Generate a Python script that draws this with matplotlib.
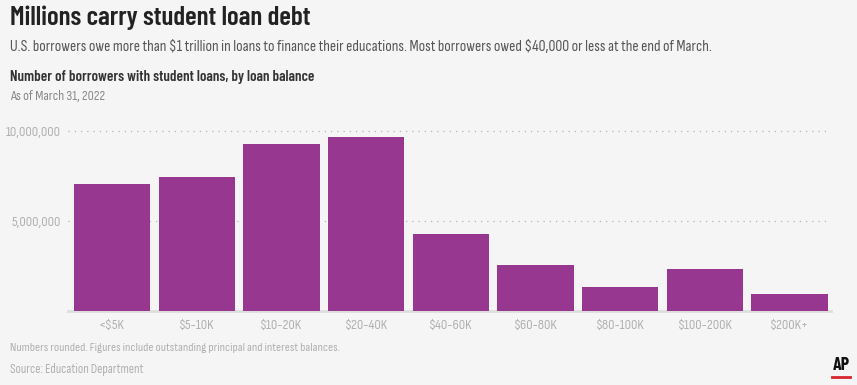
import matplotlib.pyplot as plt
from matplotlib.lines import Line2D
from matplotlib.ticker import FuncFormatter

categories = ["<$5K", "$5-10K", "$10-20K", "$20-40K", "$40-60K",
              "$60-80K", "$80-100K", "$100-200K", "$200K+"]
borrowers = [7.06e6, 7.44e6, 9.28e6, 9.67e6, 4.28e6, 2.56e6, 1.33e6, 2.33e6, 0.94e6]
yticks = [5e6, 10e6]

body = ['Sofia Sans Condensed', 'Roboto Condensed', 'DejaVu Sans']
head = ['Barlow Condensed', 'Roboto Condensed', 'DejaVu Sans']
plt.rcParams['font.family'] = body
plt.rcParams['text.parse_math'] = False

bg = "#f5f5f5"
W, H = 857, 385
fig = plt.figure(figsize=(W / 100, H / 100), dpi=100, facecolor=bg)
ax = fig.add_axes([68 / W, 1 - 311 / H, (831 - 68) / W, (311 - 122) / H], facecolor=bg)

x = list(range(len(categories)))
ax.bar(x, borrowers, width=0.9, color="#97378f", zorder=3)
ax.set_xlim(-0.52, 8.49)
ax.set_ylim(0, 10.5e6)
ax.set_yticks(yticks)
ax.yaxis.set_major_formatter(FuncFormatter(lambda v, p: f"{int(v):,}"))
ax.set_xticks(x)
ax.set_xticklabels(categories)
ax.tick_params(axis="both", length=0, colors="#b0b0b0", labelsize=10.2)
ax.tick_params(axis="x", pad=6)
ax.tick_params(axis="y", pad=5)
ax.grid(axis="y", linestyle=(0, (1, 4)), color="#b5b5b5", linewidth=0.9, zorder=1)
for s in ["top", "right", "left"]:
    ax.spines[s].set_visible(False)
ax.spines["bottom"].set_color("#dedede")
ax.spines["bottom"].set_linewidth(2)

fig.text(10 / W, 1 - 18 / H, "Millions carry student loan debt", family=head, fontsize=19.5,
         fontweight="semibold", color="#222222", va="center")
fig.text(10 / W, 1 - 47 / H,
         "U.S. borrowers owe more than $1 trillion in loans to finance their educations. "
         "Most borrowers owed $40,000 or less at the end of March.",
         fontsize=11.2, color="#555555", va="center")
fig.text(10 / W, 1 - 77 / H, "Number of borrowers with student loans, by loan balance",
         family=head, fontsize=10.8, fontweight="semibold", color="#333333", va="center")
fig.text(10 / W, 1 - 97 / H, "As of March 31, 2022", fontsize=10, color="#888888", va="center")
fig.text(10 / W, 1 - 348 / H,
         "Numbers rounded. Figures include outstanding principal and interest balances.",
         fontsize=9, color="#b0b0b0", va="center")
fig.text(10 / W, 1 - 369 / H, "Source: Education Department", fontsize=9.3,
         color="#b0b0b0", va="center")

fig.text(841 / W, 1 - 366 / H, "AP", family=head, fontsize=13, fontweight="bold",
         color="#111111", ha="center", va="center")
fig.add_artist(Line2D([832 / W, 850 / W], [1 - 377 / H, 1 - 377 / H], color="#d8262f",
                      linewidth=2, transform=fig.transFigure))

fig.savefig("out.png", dpi=100, facecolor=bg)
